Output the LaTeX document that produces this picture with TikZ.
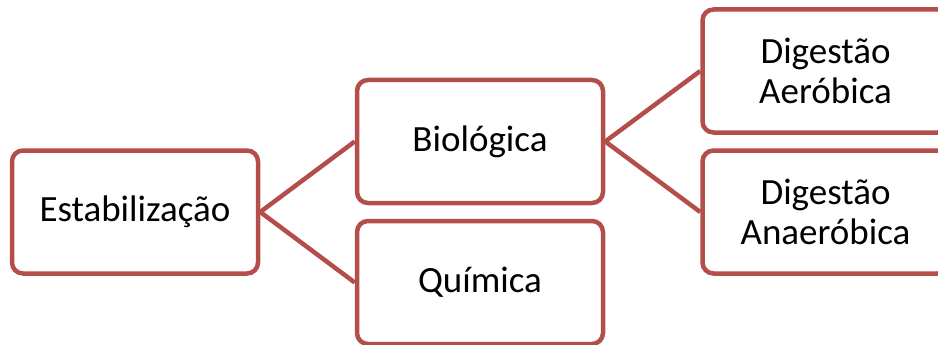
\documentclass[tikz,border=0pt]{standalone}
\usepackage{fontspec}
\setmainfont{Carlito}
\definecolor{boxred}{HTML}{B44E4B}
\begin{document}
\begin{tikzpicture}[x=1pt,y=-1pt,
  box/.style={draw=boxred, line width=4.5pt, rounded corners=11pt, fill=white,
    minimum width=246pt, minimum height=123pt, inner sep=0pt, align=center,
    font=\fontsize{37}{40}\selectfont},
  link/.style={draw=boxred, line width=4.5pt, line join=round}]
  \clip (0,0) rectangle (938,345);
  \useasboundingbox (0,0) rectangle (938,345);

  % the five boxes of the hierarchy
  \node[box] (estab) at (135,212) {Estabiliza\c{c}\~ao};
  \node[box] (bio)   at (480,141.5) {Biol\'ogica};
  \node[box] (quim)  at (480,282.5) {Qu\'imica};
  \node[box] (aer)   at (825.5,71) {Digest\~ao\\Aer\'obica};
  \node[box] (anaer) at (825.5,212) {Digest\~ao\\Anaer\'obica};

  % branch connectors
  \draw[link] (bio.west) -- (estab.east) -- (quim.west);
  \draw[link] (aer.west) -- (bio.east) -- (anaer.west);
\end{tikzpicture}
\end{document}
